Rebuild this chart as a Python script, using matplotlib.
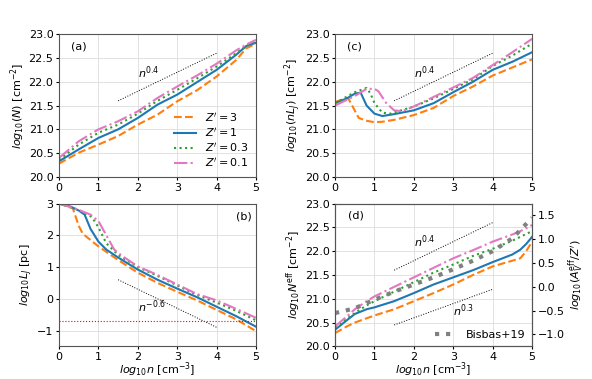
import matplotlib
matplotlib.use("Agg")
import matplotlib.pyplot as plt

plt.rcParams['font.size'] = 8
plt.rcParams['xtick.major.pad'] = 1.5
plt.rcParams['ytick.major.pad'] = 1.5
plt.rcParams['xtick.major.size'] = 2.5
plt.rcParams['ytick.major.size'] = 2.5
plt.rcParams['axes.labelpad'] = 1.5

labels = ["$Z'=3$", "$Z'=1$", "$Z'=0.3$", "$Z'=0.1$"]
colors = ['#ff7f0e', '#1f77b4', '#2ca02c', '#e377c2']
styles = ['--', '-', ':', '-.']

# panel (a): log10 N
xa = [0, 0.5, 1, 1.5, 2, 2.5, 3, 3.5, 4, 4.5, 4.75, 5]
Na = {
    "3":   [20.28, 20.51, 20.68, 20.86, 21.10, 21.31, 21.59, 21.82, 22.11, 22.46, 22.70, 22.80],
    "1":   [20.33, 20.58, 20.82, 21.00, 21.24, 21.52, 21.73, 21.99, 22.25, 22.57, 22.75, 22.82],
    "0.3": [20.36, 20.68, 20.93, 21.10, 21.33, 21.60, 21.83, 22.07, 22.32, 22.60, 22.75, 22.83],
    "0.1": [20.40, 20.75, 21.00, 21.17, 21.38, 21.66, 21.90, 22.13, 22.38, 22.66, 22.78, 22.88],
}

# panel (c): log10 nL_J
xc3 = [0, 0.2, 0.33, 0.6, 0.8, 1.0, 1.2, 1.5, 2, 2.5, 3, 3.5, 4, 4.5, 5]
nL3 = [21.58, 21.62, 21.66, 21.24, 21.18, 21.15, 21.16, 21.20, 21.30, 21.45, 21.70, 21.90, 22.13, 22.30, 22.47]
xc1 = [0, 0.3, 0.5, 0.65, 0.8, 1.0, 1.2, 1.5, 2, 2.5, 3, 3.5, 4, 4.5, 5]
nL1 = [21.55, 21.65, 21.75, 21.77, 21.50, 21.33, 21.28, 21.32, 21.40, 21.55, 21.78, 22.00, 22.25, 22.42, 22.62]
xc03 = [0, 0.5, 0.8, 0.9, 1.0, 1.2, 1.4, 1.6, 2, 2.5, 3, 3.5, 4, 4.5, 5]
nL03 = [21.55, 21.78, 21.87, 21.75, 21.55, 21.35, 21.33, 21.38, 21.48, 21.65, 21.85, 22.05, 22.33, 22.55, 22.80]
xc01 = [0, 0.5, 0.8, 1.0, 1.1, 1.3, 1.5, 1.7, 2, 2.5, 3, 3.5, 4, 4.5, 5]
nL01 = [21.50, 21.70, 21.85, 21.85, 21.80, 21.55, 21.40, 21.38, 21.48, 21.68, 21.88, 22.08, 22.35, 22.62, 22.90]

# panel (b): log10 L_J
xb3 = [0, 0.35, 0.5, 0.6, 0.8, 1.0, 1.5, 2, 2.5, 3, 3.5, 4, 4.5, 5]
LJ3 = [3.0, 2.85, 2.30, 2.05, 1.85, 1.65, 1.22, 0.82, 0.50, 0.22, -0.05, -0.35, -0.65, -1.02]
xb1 = [0, 0.3, 0.5, 0.65, 0.8, 1.0, 1.2, 1.5, 2, 2.5, 3, 3.5, 4, 4.5, 5]
LJ1 = [3.0, 2.90, 2.78, 2.65, 2.20, 1.80, 1.55, 1.30, 0.92, 0.60, 0.32, 0.05, -0.25, -0.55, -0.88]
xb03 = [0, 0.5, 0.8, 0.9, 1.0, 1.2, 1.5, 2, 2.5, 3, 3.5, 4, 4.5, 5]
LJ03 = [3.0, 2.80, 2.60, 2.45, 2.25, 1.75, 1.38, 1.00, 0.72, 0.42, 0.12, -0.12, -0.38, -0.68]
xb01 = [0, 0.5, 0.8, 1.0, 1.2, 1.4, 1.6, 2, 2.5, 3, 3.5, 4, 4.5, 5]
LJ01 = [3.0, 2.80, 2.65, 2.45, 2.00, 1.55, 1.35, 1.02, 0.75, 0.45, 0.15, -0.05, -0.32, -0.60]

# panel (d): log10 N_eff
xd = [0, 0.3, 0.5, 0.8, 1, 1.5, 2, 2.5, 3, 3.5, 4, 4.5, 4.7, 4.85, 5]
Neff = {
    "3":   [20.28, 20.42, 20.50, 20.59, 20.65, 20.78, 20.95, 21.12, 21.30, 21.50, 21.68, 21.80, 21.85, 22.00, 22.20],
    "1":   [20.35, 20.55, 20.68, 20.78, 20.82, 20.95, 21.12, 21.30, 21.45, 21.60, 21.77, 21.93, 22.03, 22.15, 22.30],
    "0.3": [20.40, 20.58, 20.70, 20.86, 20.95, 21.15, 21.35, 21.55, 21.72, 21.90, 22.05, 22.22, 22.30, 22.36, 22.42],
    "0.1": [20.42, 20.63, 20.78, 20.95, 21.05, 21.25, 21.45, 21.65, 21.85, 22.02, 22.20, 22.35, 22.42, 22.48, 22.55],
}
# Bisbas+19 on the right axis, log10(A_V^eff / Z')
xbis = [0, 0.5, 1, 1.5, 2, 2.5, 3, 3.5, 4, 4.5, 5]
Av_bis = [-0.55, -0.45, -0.27, -0.10, 0.05, 0.20, 0.37, 0.55, 0.75, 1.02, 1.45]

fig = plt.figure(figsize=(5.92, 3.79), dpi=100)
axa = fig.add_axes([0.0997, 0.533, 0.3328, 0.377])
axc = fig.add_axes([0.566, 0.533, 0.3328, 0.377])
axb = fig.add_axes([0.0997, 0.086, 0.3328, 0.377])
axd = fig.add_axes([0.566, 0.086, 0.3328, 0.377])

for ax in [axa, axb, axc, axd]:
    ax.grid(True, color='#dddddd', linewidth=0.6)
    ax.set_xlim(0, 5)
    ax.set_xticks([0, 1, 2, 3, 4, 5])
    for s in ax.spines.values():
        s.set_color('#555555')
        s.set_linewidth(0.8)

# (a)
for k, lab, c, ls in zip(Na.keys(), labels, colors, styles):
    axa.plot(xa, Na[k], ls, color=c, lw=1.5, label=lab)
axa.plot([1.5, 4], [21.6, 22.6], ':', color='k', lw=0.7)
axa.text(2.0, 22.2, '$n^{0.4}$', va='center')
axa.text(0.3, 22.75, '(a)', va='center')
axa.set_ylim(20, 23)
axa.set_ylabel('$log_{10}(N)$ [cm$^{-2}$]')
axa.legend(loc='lower right', frameon=False, handlelength=2.0,
           borderaxespad=0.3, labelspacing=0.2)

# (c)
for xx, yy, c, ls in zip([xc3, xc1, xc03, xc01], [nL3, nL1, nL03, nL01], colors, styles):
    axc.plot(xx, yy, ls, color=c, lw=1.5)
axc.plot([1.5, 4], [21.6, 22.6], ':', color='k', lw=0.7)
axc.text(2.0, 22.2, '$n^{0.4}$', va='center')
axc.text(0.3, 22.75, '(c)', va='center')
axc.set_ylim(20, 23)
axc.set_ylabel('$log_{10}(nL_J)$ [cm$^{-2}$]')

# (b)
for xx, yy, c, ls in zip([xb3, xb1, xb03, xb01], [LJ3, LJ1, LJ03, LJ01], colors, styles):
    axb.plot(xx, yy, ls, color=c, lw=1.5)
axb.plot([1.5, 4], [0.6, -0.9], ':', color='k', lw=0.7)
axb.axhline(-0.7, color='red', ls=':', lw=0.8)
axb.text(2.0, -0.25, '$n^{-0.6}$', va='center')
axb.text(4.5, 2.6, '(b)', va='center')
axb.set_ylim(-1.5, 3)
axb.set_yticks([-1, 0, 1, 2, 3])
axb.set_ylabel('$log_{10}L_J$ [pc]')
axb.set_xlabel('$log_{10}n$ [cm$^{-3}$]', labelpad=-1)

# (d)
for k, c, ls in zip(Neff.keys(), colors, styles):
    axd.plot(xd, Neff[k], ls, color=c, lw=1.5)
axd.plot([1.5, 4], [21.6, 22.6], ':', color='k', lw=0.7)
axd.plot([1.5, 4], [20.45, 21.2], ':', color='k', lw=0.7)
axd.text(2.0, 22.2, '$n^{0.4}$', va='center')
axd.text(3.0, 20.75, '$n^{0.3}$', va='center')
axd.text(0.32, 22.75, '(d)', va='center')
axd.set_ylim(20, 23)
axd.set_ylabel('$log_{10}N^{\\rm eff}$ [cm$^{-2}$]')
axd.set_xlabel('$log_{10}n$ [cm$^{-3}$]', labelpad=-1)
axr = axd.twinx()
axr.plot(xbis, Av_bis, ':', color='gray', lw=3, label='Bisbas+19')
axr.set_ylim(-1.25, 1.75)
axr.set_yticks([-1.0, -0.5, 0.0, 0.5, 1.0, 1.5])
axr.set_ylabel("$log_{10}(A_V^{\\rm eff}/Z')$")
axr.legend(loc='lower right', frameon=False, borderaxespad=0.2)
for s in axr.spines.values():
    s.set_color('#555555')
    s.set_linewidth(0.8)

fig.savefig('out.png', dpi=100)
